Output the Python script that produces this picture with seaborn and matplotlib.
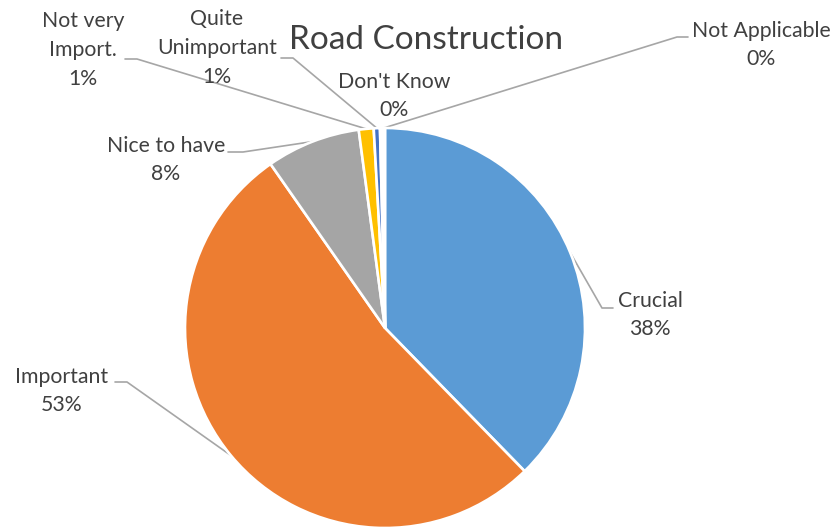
import numpy as np
import matplotlib
matplotlib.use("Agg")
import matplotlib.pyplot as plt
import seaborn as sns

# data
categories = ["Crucial", "Important", "Nice to have", "Not very\nImport.",
              "Quite\nUnimportant", "Don't Know", "Not Applicable"]
shares = [37.7, 52.6, 7.6, 1.2, 0.5, 0.2, 0.2]
pct_labels = ["38%", "53%", "8%", "1%", "1%", "0%", "0%"]
colors = ["#5B9BD5", "#ED7D31", "#A5A5A5", "#FFC000", "#4472C4", "#70AD47", "#264478"]

sns.set_theme(style="white")
plt.rcParams["font.family"] = ["Lato", "DejaVu Sans"]

W, H = 837, 529
fig = plt.figure(figsize=(W / 100, H / 100), dpi=100)
ax = fig.add_axes([0, 0, 1, 1])

cx, cy, R = 385, H - 328, 200
wedges, _ = ax.pie(shares, colors=colors, startangle=90, counterclock=False,
                   center=(cx, cy), radius=R,
                   wedgeprops=dict(edgecolor="white", linewidth=1.9))
ax.set_xlim(0, W)
ax.set_ylim(0, H)
ax.set_aspect("equal")
ax.axis("off")

txt_col = "#404040"
line_col = "#A6A6A6"

# label centre (px, from top-left) and leader line start points
layout = {
    0: ((650, 315), [(613, 308), (602, 308)]),
    1: ((62, 391), [(115, 382), (127, 382)]),
    2: ((166, 160), [(228, 152), (243, 152)]),
    3: ((83, 50), [(125, 59), (137, 59)]),
    4: ((217, 48), [(281, 58), (293, 58)]),
    5: ((394, 96), None),
    6: ((761, 45), [(688, 37), (677, 37)]),
}

for i, w in enumerate(wedges):
    (lx, ly), pts = layout[i]
    ax.text(lx, H - ly, categories[i] + "\n" + pct_labels[i], ha="center", va="center",
            fontsize=15.3, color=txt_col, linespacing=1.55)
    if pts is None:
        continue
    mid = np.deg2rad((w.theta1 + w.theta2) / 2)
    ax_, ay_ = cx + R * np.cos(mid), cy + R * np.sin(mid)
    xs = [p[0] for p in pts] + [ax_]
    ys = [H - p[1] for p in pts] + [ay_]
    ax.plot(xs, ys, color=line_col, lw=1.2, zorder=0.5)

ax.text(426, H - 40, "Road Construction", ha="center", va="center",
        fontsize=24, color="#404040")

fig.savefig("out.png", dpi=100)
